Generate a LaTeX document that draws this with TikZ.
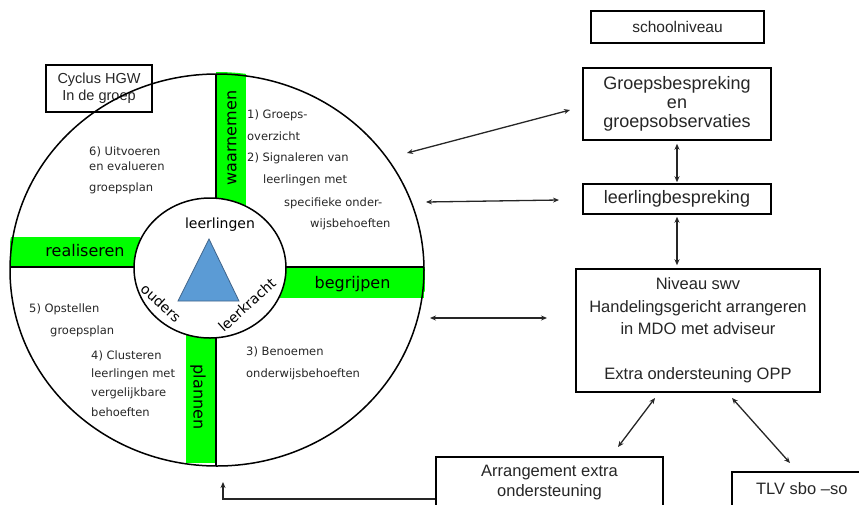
\documentclass[tikz,border=0pt]{standalone}
\usepackage{fontspec}
\setmainfont{Liberation Sans}
\newfontfamily\verd{DejaVu Sans}
\usetikzlibrary{arrows.meta}
\definecolor{grn}{HTML}{00FF00}
\definecolor{tri}{HTML}{5B9BD5}
\definecolor{triedge}{HTML}{41648A}
\definecolor{ink}{HTML}{262626}
\begin{document}
\begin{tikzpicture}[x=1pt,y=-1pt,
  box/.style={draw=black, line width=1.5pt, fill=white, text=ink, align=center, inner sep=0pt},
  bar/.style={fill=grn, draw=none},
  barlabel/.style={font=\verd\fontsize{16}{18}\selectfont, text=black, inner sep=0pt},
  qtext/.style={font=\verd\fontsize{11.5}{13}\selectfont, text=ink, anchor=west, inner sep=0pt, text height=9pt, text depth=2.5pt},
  innerlab/.style={font=\verd\fontsize{14}{16}\selectfont, text=black, inner sep=0pt},
  dbl/.style={{Stealth[length=6pt,width=5pt]}-{Stealth[length=6pt,width=5pt]}, line width=1.3pt, draw=ink},
  sgl/.style={-{Stealth[length=6pt,width=5pt]}, line width=1.3pt, draw=ink},
]
\useasboundingbox (0,0) rectangle (859,504);
\clip (0,0) rectangle (859,504);

% green bars
\begin{scope}
\clip (217,270) ellipse [x radius=209pt, y radius=198pt];
\fill[grn] (216,72) rectangle (246,212);
\fill[grn] (186,334) rectangle (216,463);
\fill[grn] (10,237) rectangle (140,267);
\fill[grn] (280,267) rectangle (425,298);
\end{scope}

% cycle title box
\node[box, font=\fontsize{14.5}{17}\selectfont, minimum width=106pt, minimum height=47pt] (cyclus) at (99,88.5) {Cyclus HGW\\In de groep};

% outer circle and cross lines
\draw[line width=1.5pt] (217,270) ellipse [x radius=207pt, y radius=196pt];
\draw[line width=1.5pt] (216,74) -- (216,200);
\draw[line width=1.5pt] (216,336) -- (216,466);
\draw[line width=1.5pt] (10,267) -- (136,267);
\draw[line width=1.5pt] (284,267) -- (424,267);

% inner circle
\draw[line width=1.5pt, fill=white] (210,268) ellipse [x radius=76pt, y radius=70pt];
\fill[tri, draw=triedge, line width=0.8pt] (209,239) -- (178,301) -- (239,301) -- cycle;

\node[innerlab] (lrl) at (220,224.5) {leerlingen};
\node[innerlab, rotate=-42] (oud) at (161,303) {ouders};
\node[innerlab, rotate=42] (lk) at (247,305) {leerkracht};

% bar labels
\node[barlabel, rotate=90] (waar) at (232,138) {waarnemen};
\node[barlabel, rotate=-90] (plan) at (198,397) {plannen};
\node[barlabel] (real) at (85,251) {realiseren};
\node[barlabel] (begr) at (352.5,284.5) {begrijpen};

% quadrant texts
\node[qtext] (q1a) at (247,115) {1) Groeps-};
\node[qtext] (q1b) at (247,137) {overzicht};
\node[qtext] (q2a) at (247,158) {2) Signaleren van};
\node[qtext] (q2b) at (263,180) {leerlingen met};
\node[qtext] (q2c) at (284,203) {specifieke onder-};
\node[qtext] (q2d) at (310,224) {wijsbehoeften};
\node[qtext] (q6a) at (89,152) {6) Uitvoeren};
\node[qtext] (q6b) at (89,167) {en evalueren};
\node[qtext] (q6c) at (89,188) {groepsplan};
\node[qtext] (q5a) at (29,309) {5) Opstellen};
\node[qtext] (q5b) at (50,331) {groepsplan};
\node[qtext] (q4a) at (91,356) {4) Clusteren};
\node[qtext] (q4b) at (91,374) {leerlingen met};
\node[qtext] (q4c) at (91,393) {vergelijkbare};
\node[qtext] (q4d) at (91,413) {behoeften};
\node[qtext] (q3a) at (246,352) {3) Benoemen};
\node[qtext] (q3b) at (246,374) {onderwijsbehoeften};

% right side boxes
\node[box, font=\fontsize{15.5}{18}\selectfont, minimum width=173pt, minimum height=32pt] (school) at (677.5,27) {schoolniveau};
\node[box, font=\fontsize{18}{19}\selectfont, minimum width=188pt, minimum height=72pt] (groeps) at (677,104) {Groepsbespreking\\en\\groepsobservaties};
\node[box, font=\fontsize{18}{20}\selectfont, minimum width=188pt, minimum height=30pt] (leerl) at (677,199) {leerlingbespreking};
\node[box, font=\fontsize{16.5}{22.5}\selectfont, minimum width=244pt, minimum height=123pt] (niveau) at (698,330.5) {Niveau swv\\Handelingsgericht arrangeren\\in MDO met adviseur\\[22.5pt]Extra ondersteuning OPP};
\node[box, font=\fontsize{16.5}{20}\selectfont, minimum width=227pt, minimum height=52pt, anchor=north] (arr) at (549.5,456) {Arrangement extra\\ondersteuning};
\node[box, font=\fontsize{16.5}{20}\selectfont, minimum width=140pt, minimum height=34pt, anchor=north west] (tlv) at (731,471) {TLV sbo --so};

% connector end points
\coordinate (e1a) at (407,153); \coordinate (e1b) at (570,110);
\coordinate (e2a) at (426,202); \coordinate (e2b) at (559,200);
\coordinate (e3a) at (430,318); \coordinate (e3b) at (547,318);
\coordinate (e4a) at (655,398); \coordinate (e4b) at (618,447);
\coordinate (e5a) at (732,398); \coordinate (e5b) at (790,463);
\coordinate (e6) at (223,482);

\draw[dbl] (e1a) -- (e1b);
\draw[dbl] (e2a) -- (e2b);
\draw[dbl] (e3a) -- (e3b);
\draw[dbl] (e4a) -- (e4b);
\draw[dbl] (e5a) -- (e5b);
\draw[dbl, shorten <=3pt, shorten >=1pt] (groeps.south) -- (leerl.north);
\draw[dbl, line width=2.2pt, shorten <=2pt, shorten >=3pt] (leerl.south) -- (leerl.south |- niveau.north);
\draw[sgl] (arr.west |- 0,499) -- (223,499) -- (e6);
\end{tikzpicture}
\end{document}
